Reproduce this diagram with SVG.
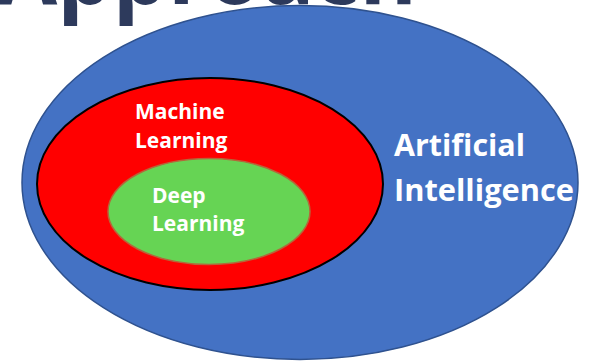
<svg xmlns="http://www.w3.org/2000/svg" width="589" height="362" viewBox="0 0 589 362">
  <style>
    .lbl { font-family: "Open Sans", "Noto Sans", "Liberation Sans", sans-serif; font-weight: 700; fill: #ffffff; }
    .title { font-family: "Open Sans", "Noto Sans", "Liberation Sans", sans-serif; font-weight: 700; fill: #2D3A5C; }
  </style>
  <rect width="589" height="362" fill="#ffffff"/>
  <!-- heading, clipped by the top edge -->
  <text class="title" x="-3" y="4" font-size="90" textLength="420" lengthAdjust="spacingAndGlyphs">Approach</text>
  <g id="ai">
    <ellipse cx="300" cy="182.5" rx="278" ry="177" fill="#4472C4" stroke="#2F528F" stroke-width="1.5"/>
    <text class="lbl" x="394" y="156" font-size="30.5" textLength="131" lengthAdjust="spacingAndGlyphs">Artificial</text>
    <text class="lbl" x="394" y="201" font-size="30.5" textLength="180" lengthAdjust="spacingAndGlyphs">Intelligence</text>
  </g>
  <g id="ml">
    <ellipse cx="210" cy="184" rx="173" ry="106" fill="#FF0000" stroke="#000000" stroke-width="2"/>
    <text class="lbl" x="135" y="119" font-size="21">Machine</text>
    <text class="lbl" x="135" y="148" font-size="21">Learning</text>
  </g>
  <g id="dl">
    <ellipse cx="209" cy="211.5" rx="101" ry="53" fill="#66D454" stroke="#B5663A" stroke-width="1.5"/>
    <text class="lbl" x="152" y="203" font-size="21">Deep</text>
    <text class="lbl" x="152" y="231" font-size="21">Learning</text>
  </g>
  <g id="connectors"/>
</svg>
